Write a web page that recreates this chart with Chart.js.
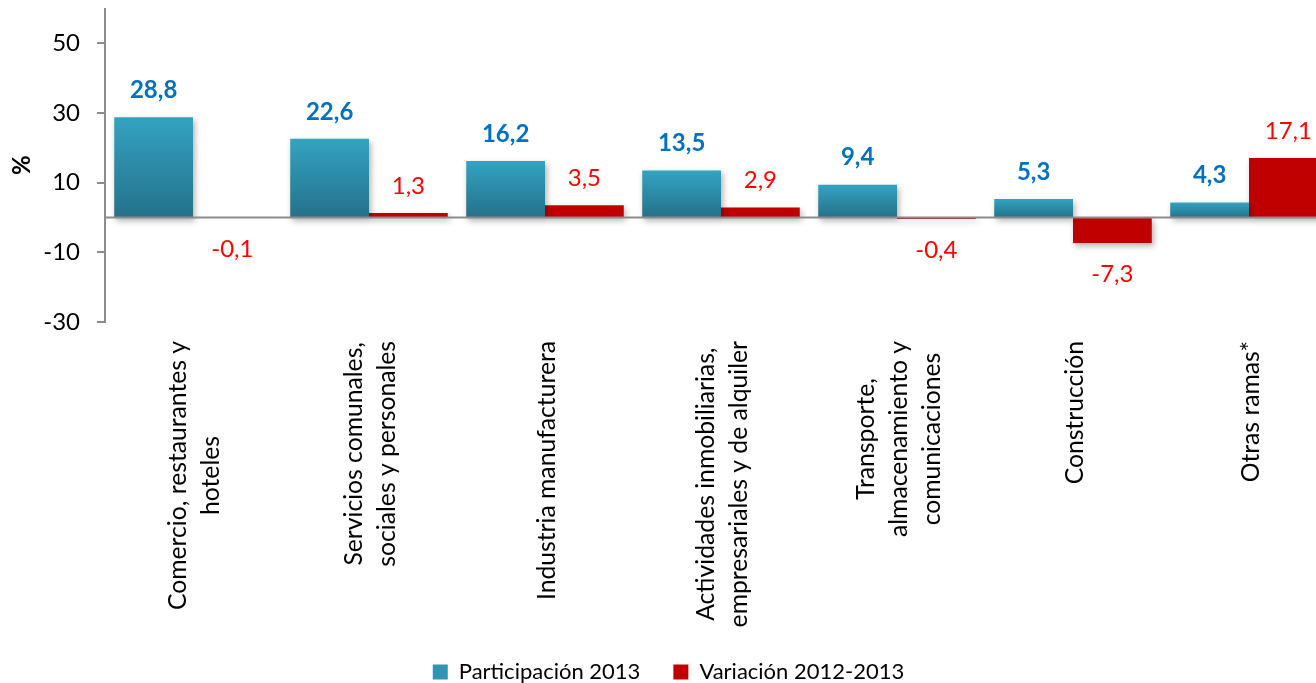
<!DOCTYPE html>
<html>
<head>
<meta charset="utf-8">
<script src="https://cdn.jsdelivr.net/npm/chart.js@4/dist/chart.umd.min.js"></script>
<style>
    html, body { margin: 0; padding: 0; background: #fff; overflow: hidden; }
    #wrap { width: 1316px; height: 683px; overflow: hidden; }
    canvas { display: block; }
</style>
</head>
<body>
<div id="wrap"><canvas id="chart" width="1340" height="683"></canvas></div>
<script>
// Data
const categories = [
    ['Comercio, restaurantes y', 'hoteles'],
    ['Servicios comunales,', 'sociales y personales'],
    ['Industria manufacturera'],
    ['Actividades inmobiliarias,', 'empresariales y de alquiler'],
    ['Transporte,', 'almacenamiento y', 'comunicaciones'],
    ['Construcción'],
    ['Otras ramas*']
];
const participacion = [28.8, 22.6, 16.2, 13.5, 9.4, 5.3, 4.3];
const variacion = [-0.1, 1.3, 3.5, 2.9, -0.4, -7.3, 17.1];
const seriesNames = ['Participación 2013', 'Variación 2012-2013'];
const yTicks = [-30, -10, 10, 30, 50];
const yMin = -30;
const yMax = 60;

const FONT = 'Lato, "Open Sans", sans-serif';
const TEAL = '#2E95B3';
const RED = '#C00000';
const BOTTOM_PAD = -10;

// Teal bars use a vertical gradient, like the original
function tealFill(context) {
    const chart = context.chart;
    const y = chart.scales.y;
    if (!y || context.type !== 'data') return TEAL;
    const v = context.raw;
    const top = y.getPixelForValue(Math.max(v, 0));
    const bottom = y.getPixelForValue(Math.min(v, 0));
    if (!isFinite(top) || !isFinite(bottom) || bottom - top < 1) return TEAL;
    const g = chart.ctx.createLinearGradient(0, top, 0, bottom);
    g.addColorStop(0, '#33A3C2');
    g.addColorStop(1, '#25718A');
    return g;
}

// Soft shadow under the bars
const barShadow = {
    id: 'barShadow',
    beforeDatasetsDraw(chart) {
        const c = chart.ctx;
        c.save();
        c.shadowColor = 'rgba(0, 0, 0, 0.3)';
        c.shadowBlur = 6;
        c.shadowOffsetX = 2;
        c.shadowOffsetY = 3;
    },
    afterDatasetsDraw(chart) {
        chart.ctx.restore();
    }
};

// Zero line, value labels and rotated category labels
const annotate = {
    id: 'annotate',
    afterDatasetsDraw(chart) {
        const c = chart.ctx;
        const area = chart.chartArea;
        const y0 = chart.scales.y.getPixelForValue(0);

        c.save();
        c.strokeStyle = '#8C8C8C';
        c.lineWidth = 2;
        c.beginPath();
        c.moveTo(area.left, y0);
        c.lineTo(area.right, y0);
        c.stroke();

        c.textAlign = 'center';
        c.textBaseline = 'middle';
        chart.data.datasets.forEach((ds, di) => {
            const meta = chart.getDatasetMeta(di);
            c.font = (di === 0 ? 'bold ' : '') + '24px ' + FONT;
            c.fillStyle = di === 0 ? '#0070C0' : '#FF0000';
            meta.data.forEach((bar, i) => {
                const v = ds.data[i];
                const ty = v >= 0 ? bar.y - 27 : bar.y + 31;
                c.fillText(v.toFixed(1).replace('.', ','), bar.x, ty);
            });
        });
        c.restore();
    },
    afterDraw(chart) {
        const c = chart.ctx;
        const xs = chart.scales.x;
        const lineH = 33;
        c.save();
        c.font = '24.7px ' + FONT;
        c.fillStyle = '#000';
        c.textAlign = 'center';
        c.textBaseline = 'middle';
        categories.forEach((lines, i) => {
            const x = xs.getPixelForValue(i) + 2;
            const maxW = Math.max(...lines.map(l => c.measureText(l).width));
            c.save();
            c.translate(x, 341);
            c.rotate(-Math.PI / 2);
            lines.forEach((line, k) => {
                c.fillText(line, -maxW / 2, (k - (lines.length - 1) / 2) * lineH);
            });
            c.restore();
        });
        c.restore();
    }
};

new Chart(document.getElementById('chart'), {
    type: 'bar',
    data: {
        labels: categories.map(l => l.join(' ')),
        datasets: [
            {
                label: seriesNames[0],
                data: participacion,
                backgroundColor: tealFill,
                borderWidth: 0,
                barPercentage: 1,
                categoryPercentage: 0.895
            },
            {
                label: seriesNames[1],
                data: variacion,
                backgroundColor: RED,
                borderWidth: 0,
                barPercentage: 1,
                categoryPercentage: 0.895
            }
        ]
    },
    options: {
        responsive: false,
        animation: false,
        layout: {
            padding: { top: 8.5, right: 3, left: 0, bottom: BOTTOM_PAD }
        },
        scales: {
            x: {
                grid: { display: false },
                border: { display: false },
                ticks: { display: false },
                afterFit(scale) {
                    const chart = scale.chart;
                    const legendH = chart.legend ? chart.legend.height : 40;
                    scale.height = chart.height - BOTTOM_PAD - 322 - legendH;
                }
            },
            y: {
                min: yMin,
                max: yMax,
                afterBuildTicks(scale) {
                    scale.ticks = yTicks.map(v => ({ value: v }));
                },
                afterFit(scale) {
                    scale.width = 105;
                    scale.paddingTop = 0;
                    scale.paddingBottom = 0;
                },
                border: { display: true, color: '#8C8C8C', width: 2 },
                grid: {
                    drawOnChartArea: false,
                    drawTicks: true,
                    tickLength: 8,
                    tickColor: '#8C8C8C',
                    lineWidth: 2
                },
                ticks: {
                    padding: 17,
                    color: '#000',
                    font: { family: FONT, size: 24 },
                    callback: v => String(v)
                },
                title: {
                    display: true,
                    text: '%',
                    color: '#000',
                    font: { family: FONT, size: 24, weight: 'bold' },
                    padding: { top: 8, bottom: 0 }
                }
            }
        },
        plugins: {
            legend: {
                position: 'bottom',
                labels: {
                    color: '#000',
                    font: { family: FONT, size: 22 },
                    boxWidth: 15,
                    boxHeight: 15,
                    padding: 33,
                    generateLabels(chart) {
                        const items = Chart.defaults.plugins.legend.labels.generateLabels(chart);
                        items[0].fillStyle = TEAL;
                        items.forEach(it => { it.lineWidth = 0; it.strokeStyle = 'rgba(0,0,0,0)'; });
                        return items;
                    }
                }
            },
            tooltip: { enabled: false }
        }
    },
    plugins: [barShadow, annotate]
});
</script>
</body>
</html>
